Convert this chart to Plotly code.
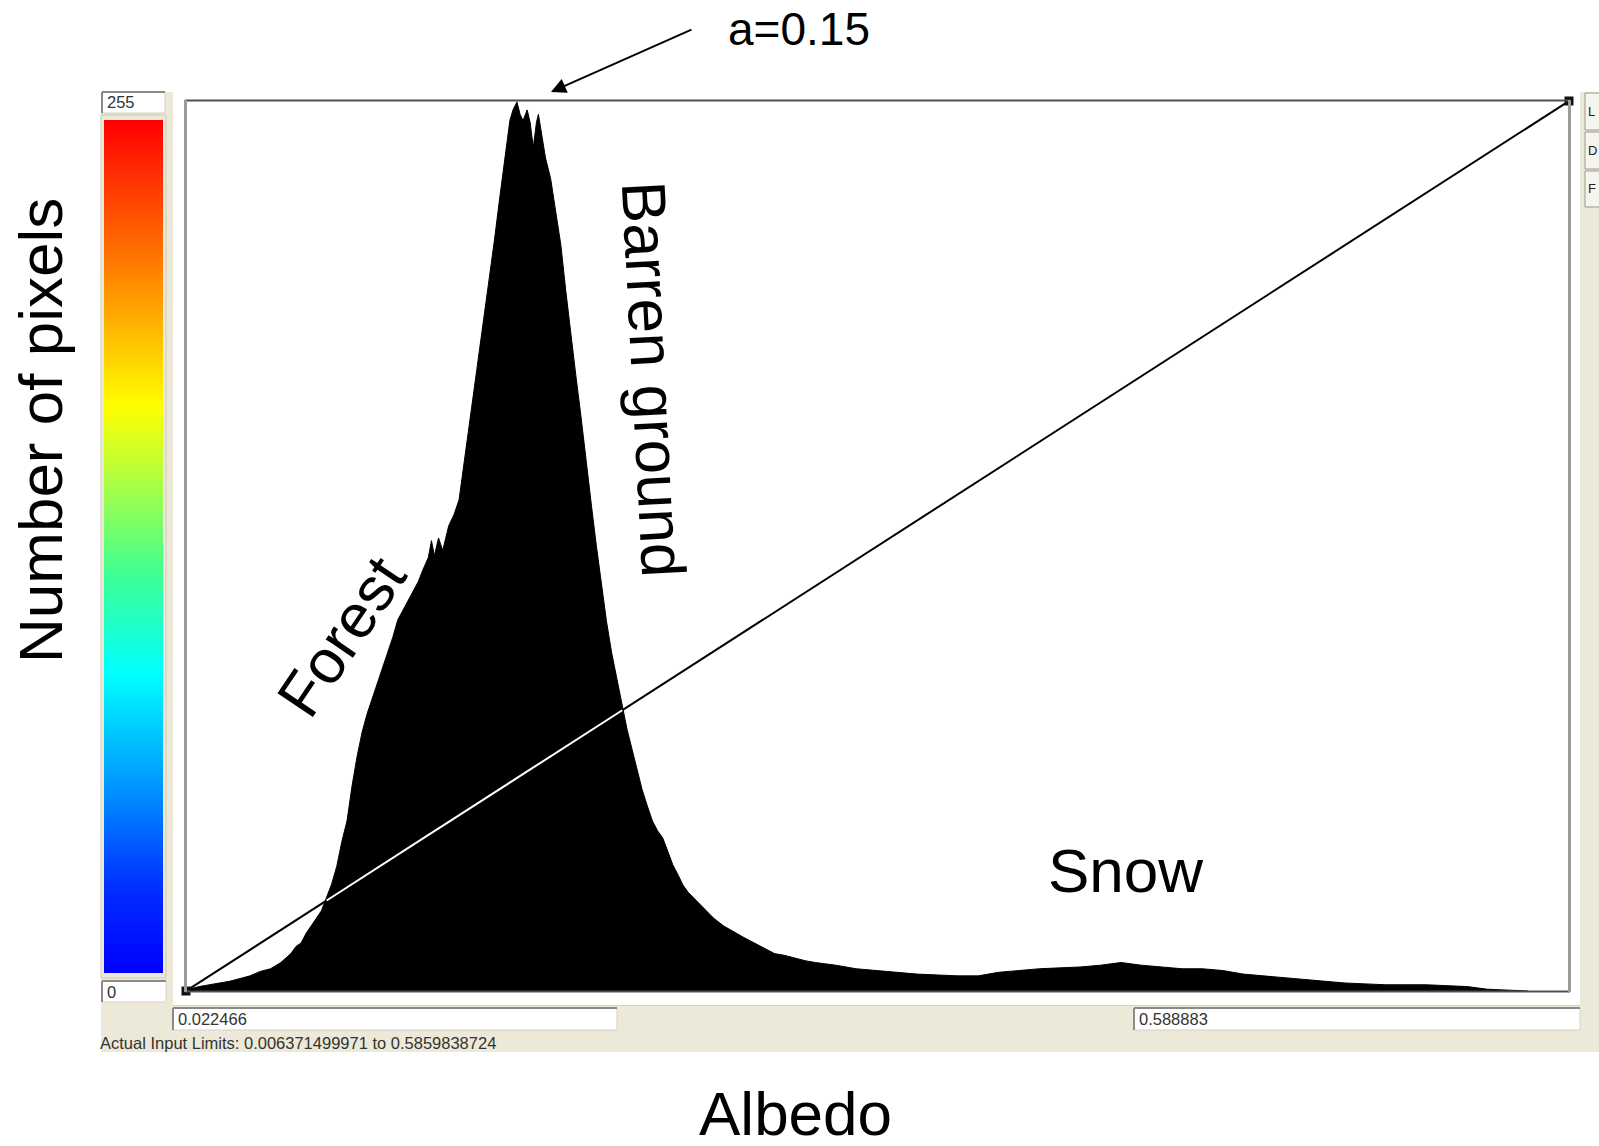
import numpy as np
import plotly.graph_objects as go

# ---------------- data ----------------
albedo = [0.0225, 0.0237, 0.0279, 0.0321, 0.0362, 0.0404, 0.0446, 0.0487, 0.0529, 0.0571,
          0.0613, 0.0654, 0.0675, 0.0696, 0.0717, 0.0738, 0.0759, 0.0779, 0.0800, 0.0821,
          0.0842, 0.0863, 0.0884, 0.0905, 0.0925, 0.0946, 0.0967, 0.0988, 0.1009, 0.1030,
          0.1051, 0.1071, 0.1092, 0.1113, 0.1134, 0.1155, 0.1176, 0.1196, 0.1217, 0.1230,
          0.1242, 0.1259, 0.1276, 0.1301, 0.1322, 0.1343, 0.1363, 0.1384, 0.1405, 0.1426,
          0.1447, 0.1468, 0.1488, 0.1509, 0.1530, 0.1551, 0.1564, 0.1580, 0.1593, 0.1605,
          0.1622, 0.1634, 0.1647, 0.1660, 0.1668, 0.1680, 0.1697, 0.1718, 0.1739, 0.1760,
          0.1780, 0.1801, 0.1822, 0.1843, 0.1864, 0.1885, 0.1905, 0.1926, 0.1947, 0.1968,
          0.1989, 0.2010, 0.2031, 0.2052, 0.2072, 0.2093, 0.2114, 0.2135, 0.2156, 0.2177,
          0.2198, 0.2218, 0.2239, 0.2260, 0.2281, 0.2302, 0.2344, 0.2385, 0.2427, 0.2469,
          0.2510, 0.2552, 0.2594, 0.2635, 0.2677, 0.2719, 0.2761, 0.2802, 0.2886, 0.2969,
          0.3053, 0.3136, 0.3219, 0.3303, 0.3386, 0.3470, 0.3553, 0.3637, 0.3720, 0.3803,
          0.3887, 0.3970, 0.4054, 0.4137, 0.4220, 0.4304, 0.4387, 0.4471, 0.4554, 0.4638,
          0.4721, 0.4804, 0.4888, 0.4971, 0.5055, 0.5138, 0.5222, 0.5305, 0.5388, 0.5472,
          0.5555, 0.5639, 0.5722]
pixel_counts = [0, 2, 5, 7, 9, 11, 14, 17, 22, 25,
                32, 42, 50, 54, 65, 73, 82, 90, 105, 120,
                140, 168, 191, 231, 263, 291, 312, 329, 346, 363,
                380, 397, 417, 428, 438, 449, 460, 474, 487, 506,
                489, 509, 495, 523, 535, 552, 592, 632, 672, 718,
                758, 804, 844, 890, 936, 978, 990, 999, 985, 978,
                990, 976, 948, 976, 985, 964, 936, 913, 873, 838,
                787, 735, 690, 644, 598, 546, 501, 455, 415, 380,
                351, 323, 294, 271, 249, 226, 208, 191, 180, 172,
                157, 142, 131, 119, 111, 105, 94, 82, 73, 66,
                60, 54, 48, 42, 40, 37, 34, 32, 29, 25,
                23, 21, 19, 18, 17, 17, 21, 23, 25, 26,
                27, 29, 32, 29, 27, 25, 25, 23, 19, 17,
                15, 13, 11, 9, 8, 7, 7, 7, 6, 5,
                2, 1, 0]

x_min_label = "0.022466"
x_max_label = "0.588883"
x_lo, x_hi = 0.022466, 0.588883
count_max = 1000
colorbar_levels = list(range(256))
limits_text = "Actual Input Limits: 0.006371499971 to 0.5859838724"

# ---------------- layout helpers ----------------
W, H = 1599, 1146
def px(x): return x / W
def py(y): return 1 - y / H

FONT = "Liberation Sans, Arial, sans-serif"
BEIGE = "#ece9d8"

fig = go.Figure()

# histogram
fig.add_trace(go.Scatter(x=albedo, y=pixel_counts, mode="lines", fill="tozeroy",
                         fillcolor="black", line=dict(color="black", width=1),
                         hoverinfo="skip", showlegend=False))

# stretch line: black on white, white on black
xs = np.linspace(x_lo, x_hi, 3000)
line_y = (xs - x_lo) / (x_hi - x_lo) * count_max
hist_y = np.interp(xs, albedo, pixel_counts)
fig.add_trace(go.Scatter(x=[x_lo, x_hi], y=[0, count_max], mode="lines+markers",
                         line=dict(color="black", width=2),
                         marker=dict(symbol="square", size=9, color="#111"),
                         cliponaxis=False, hoverinfo="skip", showlegend=False))
white_y = np.where(hist_y > line_y + 3, line_y, np.nan)
fig.add_trace(go.Scatter(x=xs, y=white_y, mode="lines", line=dict(color="white", width=2),
                         connectgaps=False, hoverinfo="skip", showlegend=False))

# colour bar (rainbow ramp)
cscale = [[0.0, "#0000ff"], [0.10, "#0030ff"], [0.23, "#00a0ff"], [0.35, "#00ffff"],
          [0.47, "#40ff90"], [0.58, "#b0ff40"], [0.665, "#ffff00"], [0.81, "#ff8c00"],
          [1.0, "#ff0000"]]
fig.add_trace(go.Heatmap(z=[[v] for v in colorbar_levels], y=colorbar_levels, x=[0],
                         colorscale=cscale, showscale=False, hoverinfo="skip",
                         xaxis="x2", yaxis="y2"))

shapes = []
def rect(x0, y0, x1, y1, fill=None, line=None, lw=0, layer="below"):
    shapes.append(dict(type="rect", xref="paper", yref="paper",
                       x0=px(x0), x1=px(x1), y0=py(y1), y1=py(y0),
                       fillcolor=fill if fill else "rgba(0,0,0,0)",
                       line=dict(color=line if line else "rgba(0,0,0,0)", width=lw),
                       layer=layer))
def seg(x0, y0, x1, y1, color, lw, layer="above"):
    shapes.append(dict(type="line", xref="paper", yref="paper",
                       x0=px(x0), x1=px(x1), y0=py(y0), y1=py(y1),
                       line=dict(color=color, width=lw), layer=layer))

# window panels
rect(101, 92, 1599, 1052, fill=BEIGE)
rect(173, 92, 1580, 1005, fill="white")
seg(173, 1005.5, 1580, 1005.5, "#d6d2bf", 1, layer="below")
# colour bar bezel
rect(101, 115, 166, 978, fill=BEIGE, line="#cfcbb6", lw=1)
# value boxes
for (x0, y0, x1, y1) in [(102, 92, 165, 113), (102, 981, 166, 1002),
                         (173, 1008, 617, 1030), (1134, 1008, 1580, 1030)]:
    rect(x0, y0, x1, y1, fill="white", line="#d4d0c8", lw=1)
    seg(x0, y0, x1, y0, "#8a8a8a", 2, layer="below")
    seg(x0, y0, x0, y1, "#8a8a8a", 2, layer="below")
# right-hand buttons
for (y0, y1) in [(93, 130), (132, 169), (171, 207)]:
    rect(1585, y0, 1606, y1, fill="#f5f4ef", line="#9a9890", lw=1)
# plot frame
seg(185, 100.5, 1570, 100.5, "#505050", 2)
seg(185, 991.5, 1570, 991.5, "#505050", 2)
seg(185.5, 100, 185.5, 992, "#9a9a9a", 3)
seg(1569.5, 100, 1569.5, 992, "#9a9a9a", 3)

annotations = []
def text(x, y, s, size, angle=0, xanchor="center", color="black", family=FONT, **kw):
    d = dict(x=px(x), y=py(y), xref="paper", yref="paper", text=s,
             showarrow=False, textangle=angle, xanchor=xanchor,
             yanchor="middle", font=dict(size=size, color=color, family=family))
    d.update(kw)
    annotations.append(d)

small = 16.5
text(105, 102, "255", small, xanchor="left", color="#333")
text(105, 992, "0", small, xanchor="left", color="#333")
text(176, 1019, x_min_label, small, xanchor="left", color="#333")
text(1137, 1019, x_max_label, small, xanchor="left", color="#333")
text(98, 1043, limits_text, small, xanchor="left", color="#333")
for (yc, s) in [(112, "L"), (151, "D"), (189, "F")]:
    text(1587, yc, s, 13, xanchor="left", color="#222", borderpad=0)

text(40, 431, "Number of pixels", 62, angle=-90)
text(795, 1113, "Albedo", 62, height=62, borderpad=0)
text(1125, 870, "Snow", 62)
text(341, 636, "Forest", 62, angle=-56)
text(654, 379, "Barren ground", 62, angle=87)
text(799, 29, "a=0.15", 46)

annotations.append(dict(x=px(551), y=py(92), xref="paper", yref="paper", text="",
                        showarrow=True, arrowhead=2, arrowsize=1.5, arrowwidth=2,
                        arrowcolor="black", ax=142, ay=-63, axref="pixel", ayref="pixel"))

fig.update_layout(
    width=W, height=H, margin=dict(l=0, r=0, t=0, b=0),
    paper_bgcolor="white", plot_bgcolor="rgba(0,0,0,0)",
    xaxis=dict(domain=[px(186), px(1569)], range=[x_lo, x_hi], visible=False, fixedrange=True),
    yaxis=dict(domain=[py(991), py(101)], range=[0, count_max], visible=False, fixedrange=True),
    xaxis2=dict(domain=[px(104), px(163)], range=[-0.5, 0.5], visible=False, anchor="y2"),
    yaxis2=dict(domain=[py(973), py(120)], range=[-0.5, 255.5], visible=False, anchor="x2"),
    shapes=shapes, annotations=annotations, showlegend=False,
)

fig.write_html("out.html")
